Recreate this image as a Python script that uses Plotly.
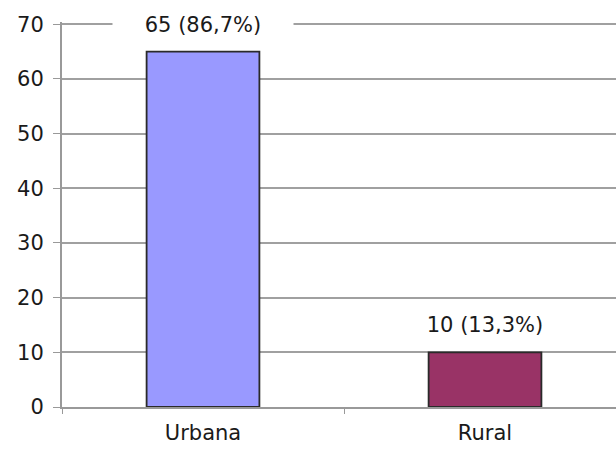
import plotly.graph_objects as go

categories = ["Urbana", "Rural"]
values = [65, 10]
labels = ["65 (86,7%)", "10 (13,3%)"]
colors = ["#9999FF", "#993366"]
y_ticks = [0, 10, 20, 30, 40, 50, 60, 70]

FONT = "DejaVu Sans"
TXT = "#1a1a1a"

fig = go.Figure()
fig.add_trace(go.Bar(
    x=categories, y=values, width=0.4,
    marker=dict(color=colors, line=dict(color="#2a2a2a", width=1.8)),
    hoverinfo="skip",
))

for c, v, t in zip(categories, values, labels):
    fig.add_annotation(
        x=c, y=v, text=t, showarrow=False, yanchor="middle", yshift=27,
        bgcolor="white", borderpad=2, width=176,
        font=dict(family=FONT, size=21, color=TXT),
    )

fig.update_layout(
    width=616, height=450,
    margin=dict(l=62, r=0, t=22, b=43),
    paper_bgcolor="white", plot_bgcolor="white",
    showlegend=False,
    font=dict(family=FONT, size=21, color=TXT),
    bargap=0.6,
)
fig.update_xaxes(
    range=[-0.5, 1.4645],
    showline=True, linecolor="#999999", linewidth=2,
    showgrid=False,
    ticks="outside", tickson="boundaries", ticklen=5, tickcolor="#999999",
    ticklabelstandoff=6,
    tickfont=dict(family=FONT, size=21, color=TXT),
)
fig.update_yaxes(
    range=[0, 70.4], tickvals=y_ticks,
    showline=True, linecolor="#999999", linewidth=2,
    showgrid=True, gridcolor="#a0a0a0", gridwidth=2,
    zeroline=False,
    ticks="outside", ticklen=7, tickcolor="#999999",
    ticklabelstandoff=5,
    tickfont=dict(family=FONT, size=21, color=TXT),
)

fig.write_html("out.html")
